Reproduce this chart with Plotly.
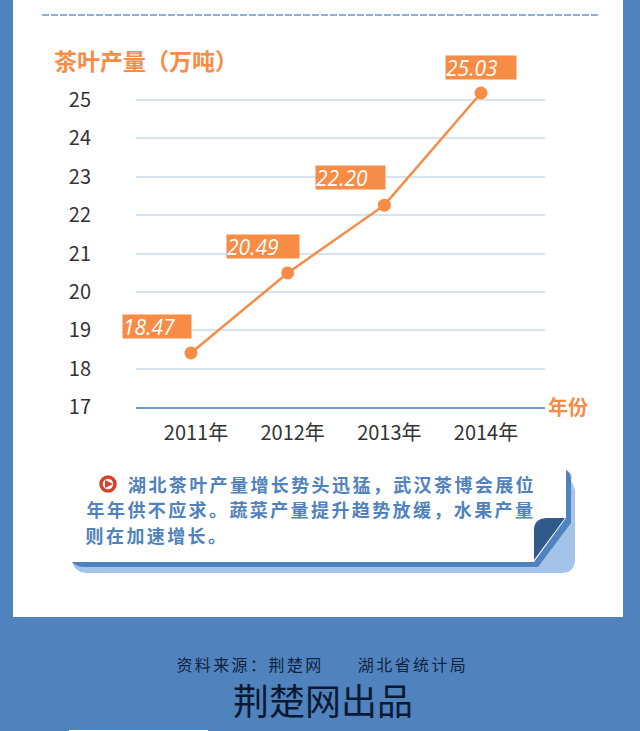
import plotly.graph_objects as go

W, H = 640, 731
years = [2011, 2012, 2013, 2014]
year_labels = ["2011年", "2012年", "2013年", "2014年"]
output = [18.47, 20.49, 22.20, 25.03]
output_labels = ["18.47", "20.49", "22.20", "25.03"]
y_ticks = [17, 18, 19, 20, 21, 22, 23, 24, 25]

title_text = "茶叶产量（万吨）"
x_title_text = "年份"
note_lines = ["湖北茶叶产量增长势头迅猛，武汉茶博会展位",
              "年年供不应求。蔬菜产量提升趋势放缓，水果产量",
              "则在加速增长。"]
source_left = "资料来源：荆楚网"
source_right = "湖北省统计局"
credit = "荆楚网出品"

BLUE = "#5082bd"
ORANGE = "#f68c46"
LIGHT = "#a4c3e8"
DARK = "#2f5a8c"
CJK = "Noto Sans CJK SC"


def fx(x):
    return x / W


def fy(y):
    return 1 - y / H


def path(*cmds):
    out = []
    for c in cmds:
        if isinstance(c, str):
            out.append(c)
        else:
            out.append(f"{fx(c[0]):.5f},{fy(c[1]):.5f}")
    return " ".join(out)


def poly(d, fill, layer="below"):
    return dict(type="path", xref="paper", yref="paper", path=d, fillcolor=fill,
                line=dict(width=0), layer=layer)


def rect(x0, y0, x1, y1, fill):
    return dict(type="rect", xref="paper", yref="paper", x0=fx(x0), x1=fx(x1),
                y0=fy(y1), y1=fy(y0), fillcolor=fill, line=dict(width=0), layer="below")


def text(x, y, s, size, color, bold=False, family=CJK, anchor="center"):
    t = f"<b>{s}</b>" if bold else s
    return dict(xref="paper", yref="paper", x=fx(x), y=fy(y), text=t, showarrow=False,
                xanchor=anchor, yanchor="middle", borderpad=0, borderwidth=0,
                font=dict(size=size, color=color, family=family))


shapes = [
    rect(13, 0, 623, 617, "white"),
    rect(69, 730, 208, 731, "white"),
    dict(type="line", xref="paper", yref="paper", x0=fx(42), x1=fx(600), y0=fy(15), y1=fy(15),
         line=dict(color="#8fb0d6", width=2, dash="7px,2px"), layer="below"),
    # note card
    poly(path("M", (72, 562), "L", (538, 562), "L", (571, 515), "L", (575, 515), "L", (575, 559),
              "Q", (575, 573), (561, 573), "L", (86, 573), "Q", (76, 573), (72, 562), "Z"), LIGHT),
    poly(path("M", (566, 470), "Q", (574, 474), (571, 480), "L", (575, 490), "L", (575, 520),
              "L", (575, 540), "L", (571, 525), "Z"), LIGHT),
    poly(path("M", (72, 562), "L", (534, 562), "L", (566, 518), "L", (566, 470),
              "Q", (571, 473), (571, 480), "L", (571, 523), "L", (538, 567), "L", (86, 567),
              "Q", (76, 567), (72, 562), "Z"), BLUE),
    poly(path("M", (534, 560), "L", (534, 530), "Q", (534, 519), (546, 518), "L", (565, 518), "Z"), DARK),
    # note icon
    dict(type="circle", xref="paper", yref="paper", x0=fx(101), x1=fx(115), y0=fy(491), y1=fy(477),
         fillcolor="white", line=dict(color="#d9412b", width=3.5), layer="above"),
    poly(path("M", (105, 480), "L", (113, 484), "L", (105, 488), "Z"), "#d9412b", "above"),
]

# pixel frame: grid 17 at y=407, 25 at y=100; the plot area runs on to y=40 for the last point
PX_PER_TICK = (407 - 100) / 8
PT = dict(x0=191, dx=96.67, top=40, bottom=407, left=136, right=545)
x_lo = years[0] + (PT["left"] - PT["x0"]) / PT["dx"]
x_hi = years[0] + (PT["right"] - PT["x0"]) / PT["dx"]
y_hi = y_ticks[0] + (PT["bottom"] - PT["top"]) / PX_PER_TICK
scale2 = (353 - 93) / (output[3] - output[0])
y2_lo = output[0] - (PT["bottom"] - 353) / scale2
y2_hi = output[0] + (353 - PT["top"]) / scale2

fig = go.Figure()
# keeps the gridded axis on the page; draws nothing itself
fig.add_trace(go.Scatter(x=years, y=output, xaxis="x", yaxis="y", mode="none",
                         hoverinfo="skip", showlegend=False))
fig.add_trace(go.Scatter(x=years, y=output, xaxis="x", yaxis="y2", mode="lines+markers",
                         line=dict(color=ORANGE, width=2.5), marker=dict(color=ORANGE, size=13),
                         cliponaxis=False, hoverinfo="skip", showlegend=False))

box_offsets = [(-34, 27, 68), (-25, 26, 72), (-34, 28, 69), (0, 26, 70)]
annotations = []
for yr, v, lab, (dx, dy, w) in zip(years, output, output_labels, box_offsets):
    annotations.append(dict(x=yr, y=v, xref="x", yref="y2", text=f"<i>{lab}</i>", showarrow=False,
                            xshift=dx, yshift=dy, width=w, height=23, align="left", bgcolor=ORANGE,
                            borderpad=0, font=dict(size=21, color="white", family="Open Sans")))

n_title = len(annotations)
annotations += [
    text(141.5 + 4.5, 60, title_text, 23, ORANGE, True),
    text(567.5, 406, x_title_text, 20, ORANGE, True),
    text(332, 484, note_lines[0], 18, BLUE, True),
    text(311, 509, note_lines[1], 18, BLUE, True),
    text(157, 535, note_lines[2], 18, BLUE, True),
    text(250, 664, source_left, 16, "#10243f"),
    text(413, 664, source_right, 16, "#10243f"),
    text(322.5, 699, credit, 36, "#0a1a33"),
]

fig.update_layout(
    width=W, height=H, margin=dict(l=0, r=0, t=0, b=0, autoexpand=False), autosize=False,
    paper_bgcolor=BLUE, plot_bgcolor="rgba(0,0,0,0)", showlegend=False,
    shapes=shapes, annotations=annotations,
    xaxis=dict(domain=[fx(PT["left"]), fx(PT["right"])], range=[x_lo, x_hi], anchor="y",
               tickmode="array", tickvals=years, ticktext=year_labels, showgrid=False, zeroline=False,
               showline=True, linecolor="#6d9acb", linewidth=2, ticks="", ticklabelshift=5,
               ticklabelstandoff=7, tickfont=dict(size=20, color="#333333", family=CJK)),
    yaxis=dict(domain=[fy(PT["bottom"]), fy(PT["top"])], range=[y_ticks[0], y_hi], anchor="x",
               tickmode="array", tickvals=y_ticks, showgrid=True, gridcolor="#d6e4f0", gridwidth=2,
               zeroline=False, showline=False, ticks="", ticklabelstandoff=44,
               tickfont=dict(size=20, color="#333333", family=CJK)),
    yaxis2=dict(range=[y2_lo, y2_hi], overlaying="y", anchor="x", visible=False),
)

spacing_css = "".join(
    f'g.annotation[data-index="{n_title + i}"] text{{letter-spacing:{sp}px}}'
    for i, sp in [(2, 2.4), (3, 2.4), (4, 2.4), (5, 2.4), (6, 2.4)]
)
post = ("document.body.style.margin='0';document.body.style.overflow='hidden';"
        f"var s=document.createElement('style');s.textContent='{spacing_css}';document.head.appendChild(s);")
fig.write_html("out.html", post_script=post, config=dict(displayModeBar=False))
